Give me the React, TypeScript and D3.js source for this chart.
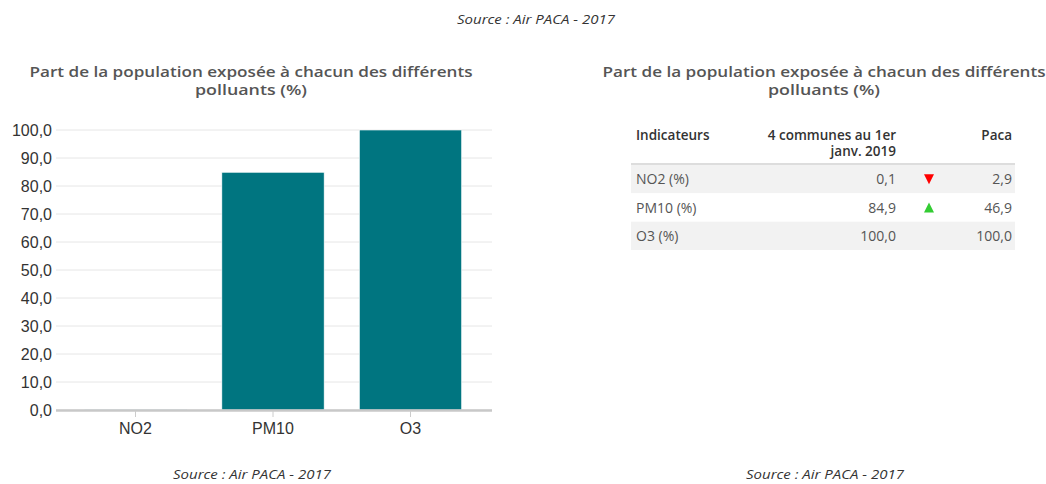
import React from "react";
import * as d3 from "d3";

const categories = ["NO2", "PM10", "O3"];
const communeValues = [0.1, 84.9, 100.0];
const pacaValues = [2.9, 46.9, 100.0];
const rowLabels = ["NO2 (%)", "PM10 (%)", "O3 (%)"];
const yTicks = [0, 10, 20, 30, 40, 50, 60, 70, 80, 90, 100];
const titleLines = ["Part de la population exposée à chacun des différents", "polluants (%)"];
const headerCols = ["Indicateurs", "4 communes au 1er", "janv. 2019", "Paca"];
const sourceText = "Source : Air PACA - 2017";

const W = 1046;
const H = 484;
const TEAL = "#007580";
const fmt = (v: number) => d3.format(".1f")(v).replace(".", ",");

export default function App() {
  const y = d3.scaleLinear().domain([0, 100]).range([410, 130]);
  const x = d3
    .scaleBand<string>()
    .domain(categories)
    .range([66.75, 479.25])
    .paddingInner(0.256)
    .paddingOuter(0.128);
  const gridX0 = 56;
  const gridX1 = 492;

  const rows = d3.scaleBand<number>().domain(d3.range(rowLabels.length)).range([165, 250]);

  const titleFont = "'Open Sans', sans-serif";

  const Title = ({ cx }: { cx: number }) => (
    <g fill="#555" fontFamily={titleFont} fontWeight={600} fontSize={15} textAnchor="middle">
      <text x={cx} y={76.5} textLength={443} lengthAdjust="spacingAndGlyphs">{titleLines[0]}</text>
      <text x={cx} y={95} textLength={112} lengthAdjust="spacingAndGlyphs">{titleLines[1]}</text>
    </g>
  );

  const Source = ({ cx, yy }: { cx: number; yy: number }) => (
    <text x={cx} y={yy} textAnchor="middle" fontFamily={titleFont} fontStyle="italic" fontSize={12}
      fill="#333" textLength={158} lengthAdjust="spacingAndGlyphs">{sourceText}</text>
  );

  const colVal = 896;
  const colTri = 929;
  const colPaca = 1012;

  return (
    <svg width={W} height={H} style={{ position: "absolute", left: 0, top: 0, background: "#fff" }}>
      <rect width={W} height={H} fill="#fff" />
      <Source cx={536} yy={24} />

      {/* Left chart */}
      <Title cx={251} />
      <g>
        {yTicks.map((t) => (
          <line key={t} x1={gridX0} x2={gridX1} y1={y(t)} y2={y(t)} stroke="#e6e6e6" strokeWidth={1} />
        ))}
        {yTicks.map((t) => (
          <text key={"l" + t} x={52} y={y(t)} dy="0.36em" textAnchor="end"
            fontFamily="'Liberation Sans', Arial, sans-serif" fontSize={16} fill="#333">{fmt(t)}</text>
        ))}
        {categories.map((c, i) => (
          <rect key={c} x={x(c)!} width={x.bandwidth()} y={y(communeValues[i])}
            height={y(0) - y(communeValues[i])} fill={TEAL} stroke="#fff" strokeWidth={0.6} />
        ))}
        <line x1={gridX0} x2={gridX1} y1={y(0) + 0.5} y2={y(0) + 0.5} stroke="#c8c8c8" strokeWidth={2.5} />
        {categories.map((c) => (
          <g key={"t" + c}>
            <line x1={x(c)! + x.bandwidth() / 2} x2={x(c)! + x.bandwidth() / 2} y1={411} y2={417} stroke="#ccc" />
            <text x={x(c)! + x.bandwidth() / 2} y={434} textAnchor="middle"
              fontFamily="'Liberation Sans', Arial, sans-serif" fontSize={16} fill="#333">{c}</text>
          </g>
        ))}
      </g>
      <Source cx={252} yy={479} />

      {/* Right table */}
      <Title cx={824} />
      <g fontFamily={titleFont} fontSize={13.5}>
        <text x={636} y={140} fontWeight={600} fill="#333">{headerCols[0]}</text>
        <text x={colVal} y={139.5} fontWeight={600} fill="#333" textAnchor="end">{headerCols[1]}</text>
        <text x={colVal} y={156} fontWeight={600} fill="#333" textAnchor="end">{headerCols[2]}</text>
        <text x={colPaca} y={140} fontWeight={600} fill="#333" textAnchor="end">{headerCols[3]}</text>
        {rowLabels.map((r, i) => {
          const top = rows(i)!;
          const h = rows.bandwidth();
          const base = top + h / 2 + 5;
          const diff = communeValues[i] - pacaValues[i];
          const cy = top + h / 2;
          return (
            <g key={r} fontSize={14}>
              <rect x={631} y={top} width={384} height={h} fill={i % 2 === 0 ? "#f2f2f2" : "#fff"} />
              <text x={636} y={base} fill="#555">{r}</text>
              <text x={colVal} y={base} fill="#555" textAnchor="end">{fmt(communeValues[i])}</text>
              <text x={colPaca} y={base} fill="#555" textAnchor="end">{fmt(pacaValues[i])}</text>
              {diff < 0 && (
                <path d={`M${colTri - 5},${cy - 5}L${colTri + 5},${cy - 5}L${colTri},${cy + 5}Z`} fill="#ff0000" />
              )}
              {diff > 0 && (
                <path d={`M${colTri - 5},${cy + 5}L${colTri + 5},${cy + 5}L${colTri},${cy - 5}Z`} fill="#33cc33" />
              )}
            </g>
          );
        })}
        <line x1={631} x2={1015} y1={164} y2={164} stroke="#ddd" strokeWidth={2} />
      </g>
      <Source cx={825} yy={479} />
    </svg>
  );
}
